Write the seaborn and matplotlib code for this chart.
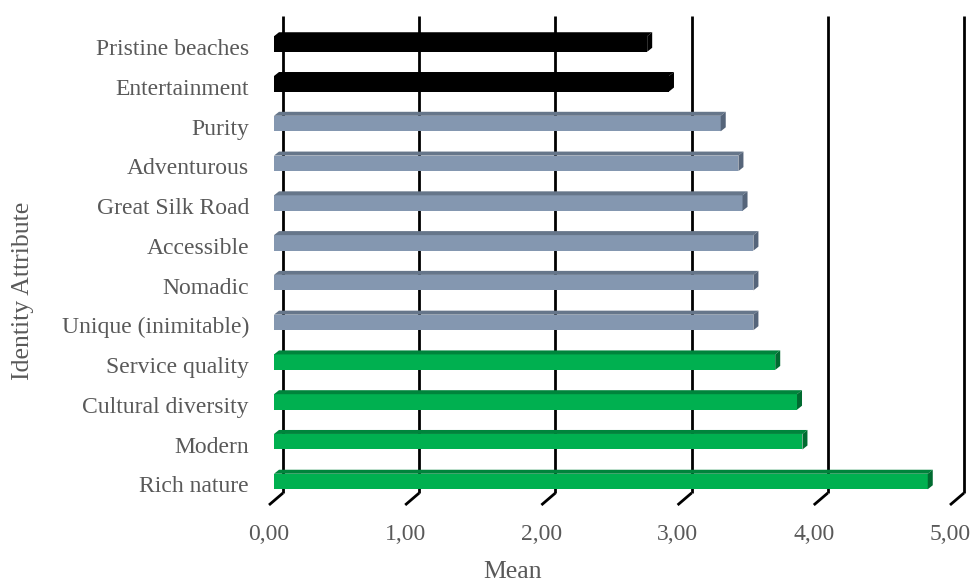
import numpy as np
import pandas as pd
import seaborn as sns
import matplotlib
matplotlib.use("Agg")
import matplotlib.pyplot as plt
from matplotlib.patches import Polygon
from matplotlib.transforms import ScaledTranslation

# ---- data ----
categories = ["Pristine beaches", "Entertainment", "Purity", "Adventurous",
              "Great Silk Road", "Accessible", "Nomadic", "Unique (inimitable)",
              "Service quality", "Cultural diversity", "Modern", "Rich nature"]
means = [2.74, 2.90, 3.28, 3.41, 3.44, 3.52, 3.52, 3.52, 3.68, 3.84, 3.88, 4.80]
groups = ["low", "low", "mid", "mid", "mid", "mid", "mid", "mid",
          "high", "high", "high", "high"]
xticks = [0, 1, 2, 3, 4, 5]
xtick_labels = ["0,00", "1,00", "2,00", "3,00", "4,00", "5,00"]

face_colors = {"low": "#000000", "mid": "#8497B0", "high": "#00B050"}
top_colors = {"low": "#000000", "mid": "#66768A", "high": "#00843C"}
side_colors = {"low": "#000000", "mid": "#56657A", "high": "#006B30"}

df = pd.DataFrame({"Identity Attribute": categories, "Mean": means, "group": groups})

sns.set_theme(style="white")
plt.rcParams["font.family"] = ["Liberation Serif", "DejaVu Serif"]

W, H = 976, 582
fig = plt.figure(figsize=(W / 100, H / 100), dpi=100)
# axes: bar plane x 0 -> px 274, 5 -> px 955 ; top px 16, bottom px 505
ax = fig.add_axes([274 / W, (H - 505) / H, 681 / W, 489 / H])

sns.barplot(data=df, x="Mean", y="Identity Attribute", hue="group",
            palette=face_colors, orient="h", width=0.39, saturation=1,
            legend=False, ax=ax, linewidth=0)

ax.set_xlim(0, 5)
ax.set_ylim(11.591, -0.704)
for s in ax.spines.values():
    s.set_visible(False)
ax.grid(False)

# pixel -> data conversions
p0 = ax.transData.transform((0, 0))
p1 = ax.transData.transform((1, 1))
px_per_x = p1[0] - p0[0]
px_per_y = p0[1] - p1[1]  # positive: y increases downward
dx = 5 / px_per_x   # depth shift right
dy = 4 / px_per_y   # depth shift up

grp_by_cat = dict(zip(categories, groups))
for bar, cat in zip(ax.patches, categories):
    g = grp_by_cat[cat]
    x0 = bar.get_x()
    x1 = x0 + bar.get_width()
    yt = bar.get_y()
    yb = yt + bar.get_height()
    if bar.get_width() == 0:
        continue
    top = Polygon([(x0, yt), (x0 + dx, yt - dy), (x1 + dx, yt - dy), (x1, yt)],
                  closed=True, facecolor=top_colors[g], edgecolor="none", zorder=3)
    side = Polygon([(x1, yt), (x1 + dx, yt - dy), (x1 + dx, yb - dy), (x1, yb)],
                   closed=True, facecolor=side_colors[g], edgecolor="none", zorder=3)
    ax.add_patch(top)
    ax.add_patch(side)
    bar.set_zorder(3)

# back-wall gridlines with diagonal floor ticks
back = ScaledTranslation(9 / 100, 0, fig.dpi_scale_trans)
front = ScaledTranslation(-5 / 100, 0, fig.dpi_scale_trans)
fb = 12 / (ax.get_position().height * H)  # back-wall bottom in axes fraction
ddx = 14 / px_per_x
xt = ax.get_xaxis_transform()
for v in xticks:
    ax.plot([v, v], [fb, 1], color="black", lw=2, transform=xt + back,
            zorder=1, clip_on=False, solid_capstyle="butt")
    ax.plot([v + ddx, v], [fb, 0], color="black", lw=2, transform=xt + front,
            zorder=1, clip_on=False, solid_capstyle="butt")

# ticks and labels
text_color = "#595959"
ax.set_xticks(xticks)
ax.set_xticklabels(xtick_labels)
ax.tick_params(axis="x", length=0, pad=14, labelsize=17, labelcolor=text_color)
ax.tick_params(axis="y", length=0, pad=18, labelsize=17, labelcolor=text_color)
for lab in ax.get_xticklabels():
    lab.set_transform(lab.get_transform() + front)
down = ScaledTranslation(0, -3 / 100, fig.dpi_scale_trans)
for lab in ax.get_yticklabels():
    lab.set_transform(lab.get_transform() + down)

ax.set_xlabel("Mean", fontsize=18.5, color=text_color)
ax.set_ylabel("Identity Attribute", fontsize=18.5, color=text_color)
ax.xaxis.set_label_coords((513 - 274) / 681, (505 - 572) / 489)
ax.yaxis.set_label_coords((23 - 274) / 681, (505 - 291) / 489)
ax.xaxis.label.set_verticalalignment("center")
ax.yaxis.label.set_verticalalignment("center")

fig.savefig("out.png", dpi=100, facecolor="white")
